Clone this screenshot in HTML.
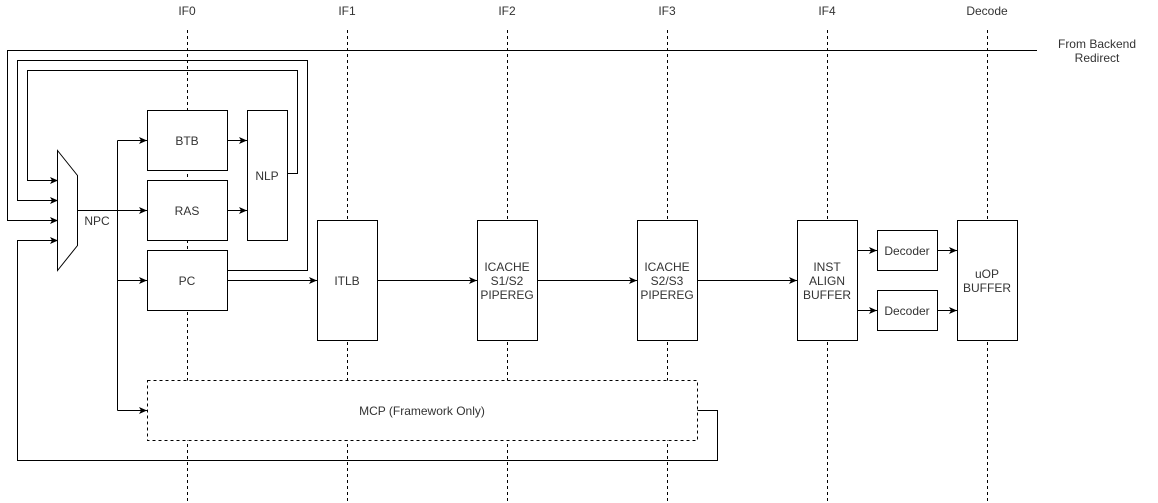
<!DOCTYPE html>
<html><head><meta charset="utf-8"><style>
html,body{margin:0;padding:0;background:#fff;}
svg{display:block;}
text{font-family:"Liberation Sans",Arial,sans-serif;font-size:12px;fill:#333;}
</style></head><body>
<svg width="1158" height="503" viewBox="0 0 1158 503" xmlns="http://www.w3.org/2000/svg">
<defs>
<marker id="a" markerWidth="10" markerHeight="10" refX="8" refY="4.5" orient="auto" markerUnits="userSpaceOnUse">
<path d="M0,1 L8,4.5 L0,8 L2,4.5 Z" fill="#000"/>
</marker>
</defs>
<g stroke="#000" stroke-width="1" stroke-dasharray="3,3" fill="none">
<line x1="187.5" y1="30" x2="187.5" y2="503"/>
<line x1="347.5" y1="30" x2="347.5" y2="503"/>
<line x1="507.5" y1="30" x2="507.5" y2="503"/>
<line x1="667.5" y1="30" x2="667.5" y2="503"/>
<line x1="827.5" y1="30" x2="827.5" y2="503"/>
<line x1="987.5" y1="30" x2="987.5" y2="503"/>
</g>
<g text-anchor="middle">
<text x="187" y="15">IF0</text><text x="347" y="15">IF1</text><text x="507" y="15">IF2</text>
<text x="667" y="15">IF3</text><text x="827" y="15">IF4</text><text x="987" y="15">Decode</text>
<text x="1097" y="48">From Backend</text><text x="1097" y="62">Redirect</text>
</g>
<g stroke="#000" stroke-width="1" fill="none">
<path d="M1037,50.5 H7.5 V220.5 H58" marker-end="url(#a)"/>
<path d="M227,270.5 H307.5 V60.5 H17.5 V200.5 H58" marker-end="url(#a)"/>
<path d="M287,173.5 H297.5 V70.5 H27.5 V180.5 H58" marker-end="url(#a)"/>
<path d="M697,410.5 H717.5 V460.5 H17.5 V240.5 H58" marker-end="url(#a)"/>
<path d="M77,210.5 H117.5"/>
<path d="M117.5,140.5 V410.5"/>
<path d="M117.5,140.5 H147" marker-end="url(#a)"/>
<path d="M117.5,210.5 H147" marker-end="url(#a)"/>
<path d="M117.5,280.5 H147" marker-end="url(#a)"/>
<path d="M117.5,410.5 H147" marker-end="url(#a)"/>
<path d="M227,140.5 H247" marker-end="url(#a)"/>
<path d="M227,210.5 H247" marker-end="url(#a)"/>
<path d="M227,280.5 H317" marker-end="url(#a)"/>
<path d="M377,280.5 H477" marker-end="url(#a)"/>
<path d="M537,280.5 H637" marker-end="url(#a)"/>
<path d="M697,280.5 H797" marker-end="url(#a)"/>
<path d="M857,250.5 H877" marker-end="url(#a)"/>
<path d="M857,310.5 H877" marker-end="url(#a)"/>
<path d="M937,250.5 H957" marker-end="url(#a)"/>
<path d="M937,310.5 H957" marker-end="url(#a)"/>
</g>
<g stroke="#000" stroke-width="1" fill="#fff">
<path d="M57.5,150.5 L77.5,175.5 L77.5,245.5 L57.5,270.5 Z"/>
<rect x="147.5" y="110.5" width="80" height="60"/>
<rect x="147.5" y="180.5" width="80" height="60"/>
<rect x="147.5" y="250.5" width="80" height="60"/>
<rect x="247.5" y="110.5" width="40" height="130"/>
<rect x="317.5" y="220.5" width="60" height="120"/>
<rect x="477.5" y="220.5" width="60" height="120"/>
<rect x="637.5" y="220.5" width="60" height="120"/>
<rect x="797.5" y="220.5" width="60" height="120"/>
<rect x="877.5" y="230.5" width="60" height="40"/>
<rect x="877.5" y="290.5" width="60" height="40"/>
<rect x="957.5" y="220.5" width="60" height="120"/>
<rect x="147.5" y="380.5" width="550" height="60" stroke-dasharray="3,3"/>
</g>
<g text-anchor="middle">
<text x="97" y="225">NPC</text>
<text x="187" y="145">BTB</text><text x="187" y="215">RAS</text><text x="187" y="285">PC</text>
<text x="267" y="180">NLP</text>
<text x="347" y="285">ITLB</text>
<text x="507" y="271">ICACHE</text><text x="507" y="285">S1/S2</text><text x="507" y="299">PIPEREG</text>
<text x="667" y="271">ICACHE</text><text x="667" y="285">S2/S3</text><text x="667" y="299">PIPEREG</text>
<text x="827" y="271">INST</text><text x="827" y="285">ALIGN</text><text x="827" y="299">BUFFER</text>
<text x="907" y="255">Decoder</text><text x="907" y="315">Decoder</text>
<text x="987" y="278">uOP</text><text x="987" y="292">BUFFER</text>
<text x="422" y="415">MCP (Framework Only)</text>
</g>
</svg>
</body></html>
